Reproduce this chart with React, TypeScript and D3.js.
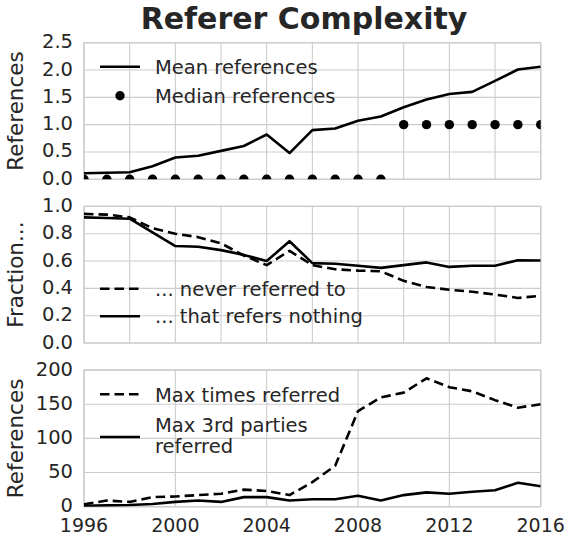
import React from "react";
import * as d3 from "d3";

const years = [1996, 1997, 1998, 1999, 2000, 2001, 2002, 2003, 2004, 2005, 2006, 2007, 2008, 2009, 2010, 2011, 2012, 2013, 2014, 2015, 2016];

const meanRefs = [0.11, 0.12, 0.13, 0.24, 0.40, 0.43, 0.52, 0.61, 0.82, 0.48, 0.90, 0.93, 1.07, 1.15, 1.32, 1.46, 1.56, 1.60, 1.80, 2.01, 2.06];
const medianRefs = [0, 0, 0, 0, 0, 0, 0, 0, 0, 0, 0, 0, 0, 0, 1, 1, 1, 1, 1, 1, 1];

const neverReferred = [0.945, 0.94, 0.92, 0.84, 0.80, 0.775, 0.73, 0.64, 0.57, 0.675, 0.57, 0.54, 0.53, 0.525, 0.455, 0.41, 0.39, 0.375, 0.355, 0.33, 0.345];
const refersNothing = [0.92, 0.915, 0.91, 0.81, 0.71, 0.705, 0.68, 0.645, 0.60, 0.745, 0.585, 0.58, 0.566, 0.55, 0.57, 0.59, 0.557, 0.566, 0.566, 0.606, 0.604];

const maxTimesReferred = [3.5, 9, 7, 14, 15, 17, 19, 25, 23, 17, 36, 60, 140, 160, 167, 188, 175, 169, 156, 145, 150];
const maxThirdParties = [1.5, 2, 2.5, 4, 7, 9, 7, 14, 14, 9, 11, 11, 16, 9, 17, 21, 19, 22, 24, 35, 30];

const ticks1 = [0, 0.5, 1.0, 1.5, 2.0, 2.5];
const ticks2 = [0, 0.2, 0.4, 0.6, 0.8, 1.0];
const ticks3 = [0, 50, 100, 150, 200];
const xGridFine = [1996, 1998, 2000, 2002, 2004, 2006, 2008, 2010, 2012, 2014, 2016];
const xGridCoarse = [1996, 2000, 2004, 2008, 2012, 2016];

const W = 564;
const H = 537;
const LEFT = 84;
const RIGHT = 540.7;
const PH = 136.6;
const TOPS = [42.7, 206.4, 370.1];
const FONT = "DejaVu Sans";
const TXT = "#262626";
const GRID = "#cccccc";
const TICK_FS = 19.5;

const x = d3.scaleLinear().domain([1996, 2016]).range([LEFT, RIGHT]);

type Series = { values: number[]; dashed?: boolean; dots?: boolean };

function Panel(props: {
  idx: number;
  top: number;
  domain: [number, number];
  ticks: number[];
  fmt: (v: number) => string;
  xgrid: number[];
  ylabel: string;
  series: Series[];
  showX?: boolean;
  legend: React.ReactNode;
}) {
  const { idx, top, domain, ticks, fmt, xgrid, ylabel, series, showX, legend } = props;
  const y = d3.scaleLinear().domain(domain).range([top + PH, top]);
  const line = d3
    .line<number>()
    .x((_, i) => x(years[i]))
    .y((d) => y(d));
  const clipId = `clip${idx}`;
  return (
    <g>
      <defs>
        <clipPath id={clipId}>
          <rect x={LEFT} y={top} width={RIGHT - LEFT} height={PH} />
        </clipPath>
      </defs>
      {ticks.map((t) => (
        <line key={"hy" + t} x1={LEFT} x2={RIGHT} y1={y(t)} y2={y(t)} stroke={GRID} strokeWidth={1.1} />
      ))}
      {xgrid.map((t) => (
        <line key={"vx" + t} x1={x(t)} x2={x(t)} y1={top} y2={top + PH} stroke={GRID} strokeWidth={1.1} />
      ))}
      <rect x={LEFT} y={top} width={RIGHT - LEFT} height={PH} fill="none" stroke={GRID} strokeWidth={1.3} />
      {ticks.map((t) => (
        <text key={"ty" + t} x={73} y={y(t) + 5.5} textAnchor="end" fontSize={TICK_FS} fill={TXT} fontFamily={FONT}>
          {fmt(t)}
        </text>
      ))}
      {showX &&
        xGridCoarse.map((t) => (
          <text key={"tx" + t} x={x(t)} y={531.5} textAnchor="middle" fontSize={19} fill={TXT} fontFamily={FONT}>
            {t}
          </text>
        ))}
      <text
        transform={`translate(22.5, ${top + PH / 2}) rotate(-90)`}
        textAnchor="middle"
        fontSize={21.5}
        fill={TXT}
        fontFamily={FONT}
      >
        {ylabel}
      </text>
      <g clipPath={`url(#${clipId})`}>
        {series.map((s, k) =>
          s.dots ? (
            <g key={k}>
              {s.values.map((v, i) => (
                <circle key={i} cx={x(years[i])} cy={y(v)} r={4.7} fill="#000" />
              ))}
            </g>
          ) : (
            <path
              key={k}
              d={line(s.values) || ""}
              fill="none"
              stroke="#000"
              strokeWidth={2.6}
              strokeDasharray={s.dashed ? "9.5,5" : undefined}
              strokeLinejoin="round"
            />
          )
        )}
      </g>
      {legend}
    </g>
  );
}

function LegendLine(props: { y: number; dashed?: boolean; dot?: boolean }) {
  const { y, dashed, dot } = props;
  if (dot) return <circle cx={120} cy={y} r={4.7} fill="#000" />;
  return (
    <line
      x1={100}
      x2={140}
      y1={y}
      y2={y}
      stroke="#000"
      strokeWidth={2.6}
      strokeDasharray={dashed ? "9.5,5" : undefined}
    />
  );
}

function LegendText(props: { y: number; children: React.ReactNode }) {
  return (
    <text x={155} y={props.y} fontSize={TICK_FS} fill={TXT} fontFamily={FONT}>
      {props.children}
    </text>
  );
}

export default function App() {
  return (
    <svg width={W} height={H} style={{ display: "block", position: "absolute", left: 0, top: 0 }}>
      <rect width={W} height={H} fill="#fff" />
      <text x={304} y={28.5} textAnchor="middle" fontSize={30} fontWeight="bold" fill={TXT} fontFamily={FONT}>
        Referer Complexity
      </text>
      <Panel
        idx={1}
        top={TOPS[0]}
        domain={[0, 2.5]}
        ticks={ticks1}
        fmt={(v) => v.toFixed(1)}
        xgrid={xGridFine}
        ylabel="References"
        series={[{ values: meanRefs }, { values: medianRefs, dots: true }]}
        legend={
          <g>
            <LegendLine y={66.8} />
            <LegendText y={73.8}>Mean references</LegendText>
            <LegendLine y={95.8} dot />
            <LegendText y={102.8}>Median references</LegendText>
          </g>
        }
      />
      <Panel
        idx={2}
        top={TOPS[1]}
        domain={[0, 1.0]}
        ticks={ticks2}
        fmt={(v) => v.toFixed(1)}
        xgrid={xGridFine}
        ylabel="Fraction..."
        series={[{ values: neverReferred, dashed: true }, { values: refersNothing }]}
        legend={
          <g>
            <LegendLine y={288.8} dashed />
            <LegendText y={295.8}>... never referred to</LegendText>
            <LegendLine y={316.3} />
            <LegendText y={323.3}>... that refers nothing</LegendText>
          </g>
        }
      />
      <Panel
        idx={3}
        top={TOPS[2]}
        domain={[0, 200]}
        ticks={ticks3}
        fmt={(v) => String(v)}
        xgrid={xGridCoarse}
        ylabel="References"
        showX
        series={[{ values: maxTimesReferred, dashed: true }, { values: maxThirdParties }]}
        legend={
          <g>
            <LegendLine y={394.3} dashed />
            <LegendText y={401.5}>Max times referred</LegendText>
            <LegendLine y={437} />
            <LegendText y={431.5}>Max 3rd parties</LegendText>
            <LegendText y={453}>referred</LegendText>
          </g>
        }
      />
    </svg>
  );
}
